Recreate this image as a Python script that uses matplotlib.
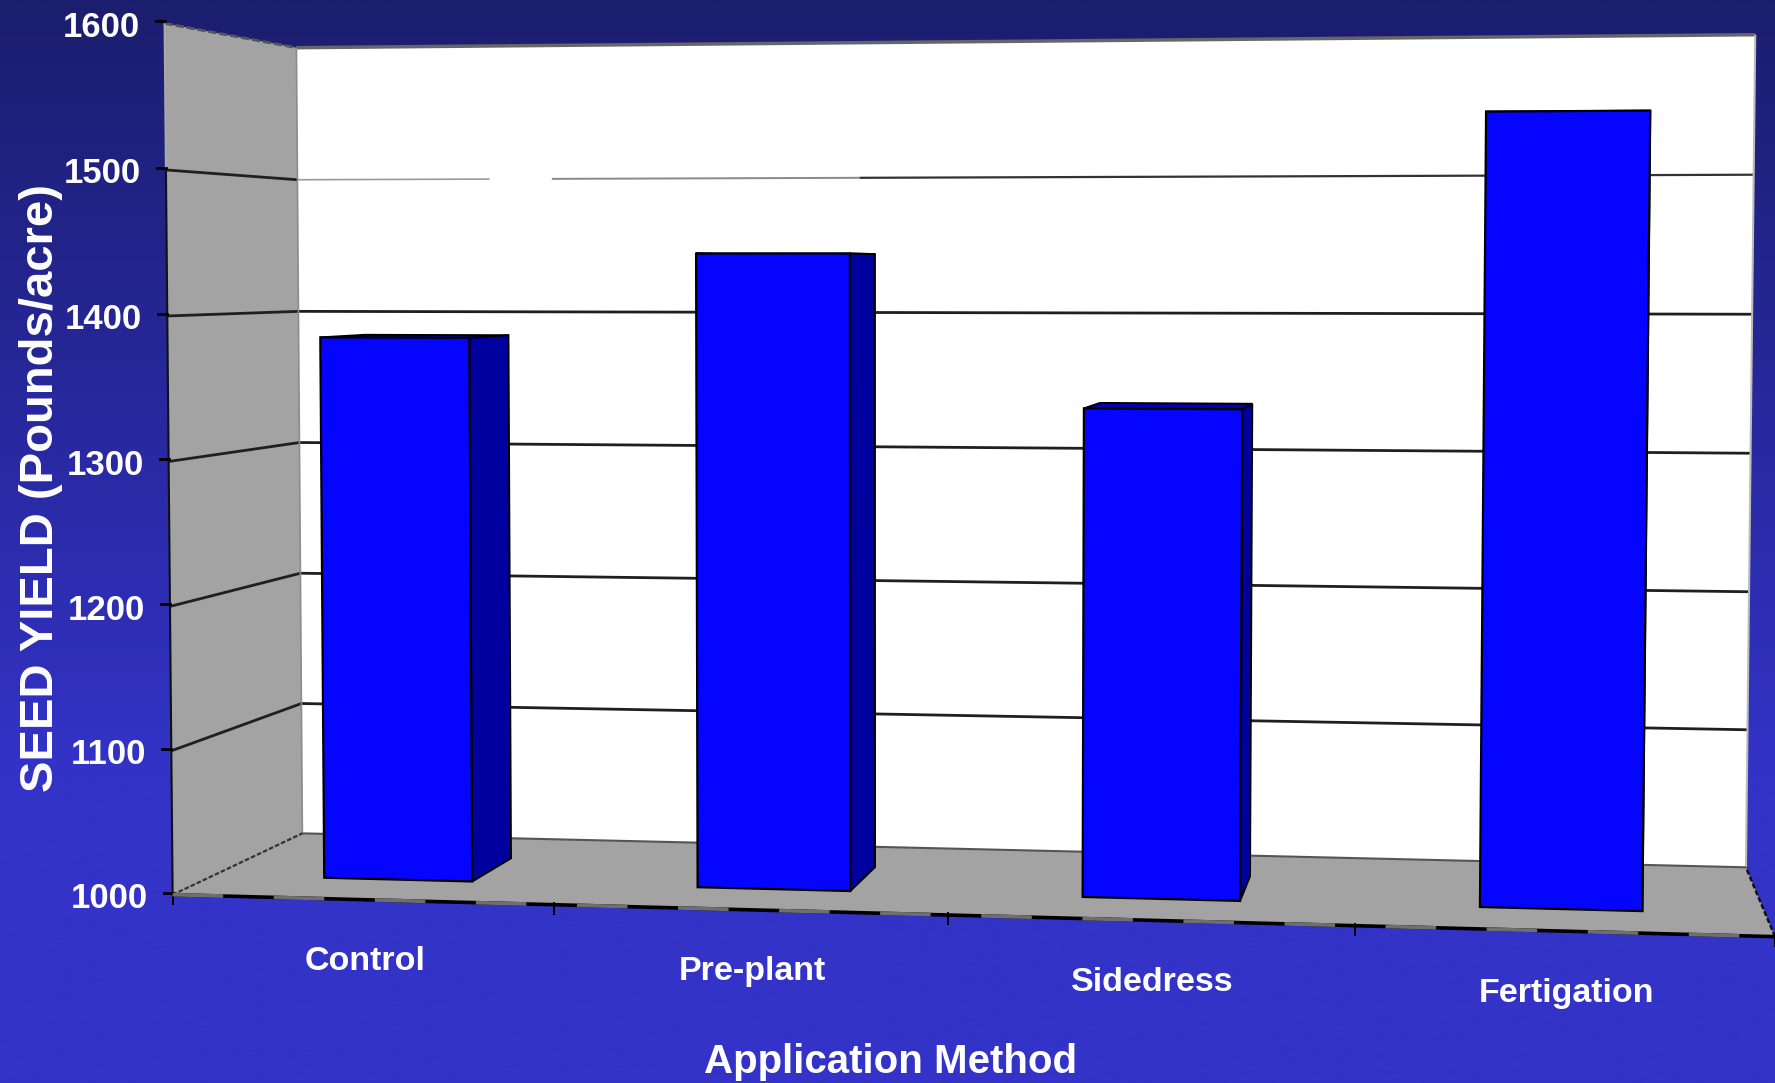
# -*- coding: utf-8 -*-
'''Seed yield by application method, 3D column look'''
import matplotlib.pyplot as plt
from matplotlib.patches import Polygon
import numpy as np

# data
methods = ['Control', 'Pre-plant', 'Sidedress', 'Fertigation']
seed_yield = [1384, 1443, 1337, 1538]
yticks = [1000, 1100, 1200, 1300, 1400, 1500, 1600]
ymin, ymax = 1000, 1600

# box corners (category, value, depth) and where they land on the page
box_3d = [(0, 1000, 0), (0, 1600, 0), (0, 1000, 1), (0, 1600, 1),
          (4, 1000, 1), (4, 1600, 1), (4, 1000, 0), (4, 1600, 0)]
box_2d = [(173, 894), (164, 23), (302, 834), (297, 48),
          (1746, 867), (1755, 34), (1775, 937), (1786, 8)]

bar_width = 0.40
bar_depth = (0.30, 0.67)


def fit_camera(pts3, pts2):
    # direct linear transform, 3x4 projective matrix
    rows = []
    for (x, v, z), (px, py) in zip(pts3, pts2):
        h = (v - ymin) / (ymax - ymin)
        rows.append([x, h, z, 1, 0, 0, 0, 0, -px*x, -px*h, -px*z, -px])
        rows.append([0, 0, 0, 0, x, h, z, 1, -py*x, -py*h, -py*z, -py])
    u, s, vt = np.linalg.svd(np.array(rows, dtype=float))
    return vt[-1].reshape(3, 4)


cam = fit_camera(box_3d, box_2d)


def proj(x, v, z):
    h = (v - ymin) / (ymax - ymin)
    p = cam @ np.array([x, h, z, 1.0])
    return p[0] / p[2], p[1] / p[2]


def face(ax, pts, fc, ec='black', lw=1.6, zorder=2):
    ax.add_patch(Polygon([proj(*p) for p in pts], closed=True, facecolor=fc,
                         edgecolor=ec, linewidth=lw, joinstyle='miter', zorder=zorder))


def seg(ax, a, b, **kw):
    pa, pb = proj(*a), proj(*b)
    ax.plot([pa[0], pb[0]], [pa[1], pb[1]], solid_capstyle='butt', **kw)


plt.rcParams['font.family'] = ['Liberation Sans', 'DejaVu Sans']
plt.rcParams['font.weight'] = 'bold'

fig = plt.figure(figsize=(17.75, 10.83), dpi=100)
ax = fig.add_axes([0, 0, 1, 1])
ax.set_xlim(0, 1775)
ax.set_ylim(1083, 0)
ax.axis('off')

# background shading, dark at the top
top_c = np.array([27, 29, 110]) / 255.
bot_c = np.array([51, 51, 200]) / 255.
t = np.clip(np.linspace(0, 1, 256) / 0.72, 0, 1)[:, None, None]
grad = top_c[None, None, :] * (1 - t) + bot_c[None, None, :] * t
ax.imshow(grad, extent=(0, 1775, 1083, 0), aspect='auto', zorder=0, interpolation='bilinear')

# walls and floor
grey = '#a3a3a3'
face(ax, [(0, ymin, 1), (0, ymax, 1), (4, ymax, 1), (4, ymin, 1)], 'white', ec='none', lw=0, zorder=1)
face(ax, [(0, ymin, 0), (0, ymax, 0), (0, ymax, 1), (0, ymin, 1)], grey, ec='none', lw=0, zorder=1)
face(ax, [(0, ymin, 0), (4, ymin, 0), (4, ymin, 1), (0, ymin, 1)], grey, ec='none', lw=0, zorder=1)

# gridlines on back and left wall
line = dict(color='#1f1f1f', linewidth=2.0, zorder=1.5)
for v in yticks[1:-1]:
    seg(ax, (0, v, 0), (0, v, 1), **line)
    if v == 1500:
        # this one is faint left of the first gap
        seg(ax, (0, v, 1), (0.555, v, 1), color='#9a9a9a', linewidth=1.2, zorder=1.5)
        seg(ax, (0.733, v, 1), (1.6, v, 1), color='#8a8a8a', linewidth=1.4, zorder=1.5)
        seg(ax, (1.6, v, 1), (4, v, 1), color='#333333', linewidth=1.6, zorder=1.5)
    else:
        seg(ax, (0, v, 1), (4, v, 1), **line)

# box outline
seg(ax, (0, ymax, 0), (0, ymax, 1), color='#555555', linewidth=2, linestyle=(0, (3, 1)), zorder=1.6)
seg(ax, (0, ymax, 1), (4, ymax, 1), color='#666666', linewidth=2.5, zorder=1.6)
seg(ax, (4, ymin, 1), (4, ymax, 1), color='#bbbbbb', linewidth=1.5, zorder=1.6)
seg(ax, (0, ymin, 1), (0, ymax, 1), color='#8c8c8c', linewidth=1.2, zorder=1.6)
seg(ax, (0, ymin, 1), (4, ymin, 1), color='#555555', linewidth=1.5, zorder=1.6)
seg(ax, (0, ymin, 0), (0, 1500, 0), color='#111111', linewidth=1.5, zorder=1.6)
seg(ax, (0, 1500, 0), (0, ymax, 0), color='#aaaaaa', linewidth=1.5, zorder=1.6)
seg(ax, (0, ymin, 0), (0, ymin, 1), color='#333333', linewidth=1.6, linestyle=(0, (2, 1)), zorder=1.6)
seg(ax, (4, ymin, 0), (4, ymin, 1), color='#111111', linewidth=1.8, linestyle=(0, (2, 1)), zorder=1.6)

# columns
for i, val in enumerate(seed_yield):
    x0 = i + 0.5 - bar_width / 2
    x1 = i + 0.5 + bar_width / 2
    zf, zb = bar_depth
    face(ax, [(x0, val, zf), (x0, val, zb), (x1, val, zb), (x1, val, zf)], '#0000b4', lw=1.4, zorder=2)
    face(ax, [(x1, ymin, zf), (x1, val, zf), (x1, val, zb), (x1, ymin, zb)], '#00009f', lw=1.4, zorder=2)
    face(ax, [(x0, ymin, zf), (x0, val, zf), (x1, val, zf), (x1, ymin, zf)], '#0505ff', lw=1.6, zorder=3)

# front floor edge and tick marks
seg(ax, (0, ymin, 0), (4, ymin, 0), color='black', linewidth=2.6, zorder=4)
seg(ax, (0, ymin, 0), (4, ymin, 0), color='#6f6f6f', linewidth=2.6, linestyle=(0, (14, 14)), zorder=4.1)
for k in range(len(methods) + 1):
    px, py = proj(k, ymin, 0)
    ax.plot([px, px], [py - 2, py + 9], color='black', linewidth=1.4, zorder=4)
for v in yticks:
    px, py = proj(0, v, 0)
    ax.plot([px - 9, px], [py - 2, py - 2], color='black', linewidth=2.0, zorder=4)

# tick labels
for v in yticks:
    px, py = proj(0, v, 0)
    ax.text(px - 25, py + 4, str(v), color='white', fontsize=25, ha='right', va='center', zorder=5)
for i, name in enumerate(methods):
    px, py = proj(i + 0.5, ymin, 0)
    ax.text(px + 3, py + 62, name, color='white', fontsize=24.5, ha='center', va='center', zorder=5)

ax.text(41, 488, 'SEED YIELD (Pounds/acre)', color='white', fontsize=34, rotation=90,
        ha='center', va='center', zorder=5)
ax.text(891, 1062, 'Application Method', color='white', fontsize=29, ha='center', va='center', zorder=5)

fig.savefig('out.png', dpi=100)
